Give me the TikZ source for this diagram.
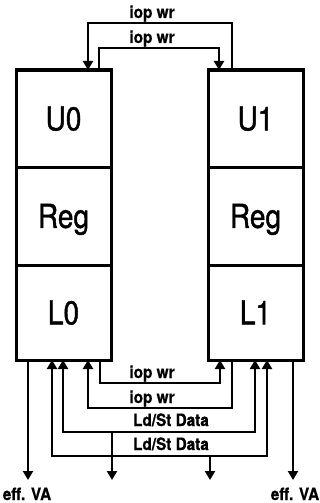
\documentclass[tikz,border=0pt]{standalone}
\usepackage{fontspec}
\newfontfamily\bigf[FakeStretch=0.85,FakeBold=1.2]{TeX Gyre Heros}
\newfontfamily\smf[FakeStretch=0.9,FakeBold=0.8]{TeX Gyre Heros}
\usetikzlibrary{arrows.meta}
\begin{document}
\begin{tikzpicture}[x=1pt,y=-1pt,
  >={Triangle[length=9pt,width=10pt]},
  unit/.style={draw, line width=3pt, minimum width=95pt, inner sep=0pt, outer sep=0pt,
    anchor=north west, font=\bigf\fontsize{33}{33}\selectfont, text height=23.7pt, text depth=0pt},
  wire/.style={line width=2.2pt},
  lbl/.style={font=\smf\bfseries\fontsize{17}{17}\selectfont, anchor=base, inner sep=0pt}]
\useasboundingbox (0,0) rectangle (320,503);
% units
\node[unit, minimum height=97pt] (U0) at (16,70) {U0};
\node[unit, minimum height=98pt] (R0) at (U0.south west) {Reg};
\node[unit, minimum height=95pt] (L0) at (R0.south west) {L0};
\node[unit, minimum height=97pt] (U1) at (208,70) {U1};
\node[unit, minimum height=98pt] (R1) at (U1.south west) {Reg};
\node[unit, minimum height=95pt] (L1) at (R1.south west) {L1};
% helper coordinates
\coordinate (x28) at (28,0);
\coordinate (x52) at (52,0);
\coordinate (x63) at (63,0);
\coordinate (x88) at (88,0);
\coordinate (x99) at (99,0);
\coordinate (x100) at (100,0);
\coordinate (x112) at (112,0);
\coordinate (x210) at (210,0);
\coordinate (x219) at (219,0);
\coordinate (x220) at (220,0);
\coordinate (x232) at (232,0);
\coordinate (x255) at (255,0);
\coordinate (x267) at (267,0);
\coordinate (x293) at (293,0);
\coordinate (y23) at (0,23);
\coordinate (y48) at (0,48);
\coordinate (y383) at (0,383);
\coordinate (y408) at (0,408);
\coordinate (y432) at (0,432);
\coordinate (y456) at (0,456);
\coordinate (y480) at (0,480);
% top connectors
\draw[wire,->] (U1.north -| x232) -- (x232 |- y23) -- (x88 |- y23) -- (U0.north -| x88);
\draw[wire,->] (U0.north -| x99) -- (x99 |- y48) -- (x219 |- y48) -- (U1.north -| x219);
\node[lbl] (t1) at (152,18) {iop wr};
\node[lbl] (t2) at (152,43) {iop wr};
% bottom connectors
\draw[wire,->] (L0.south -| x100) -- (x100 |- y383) -- (x220 |- y383) -- (L1.south -| x220);
\draw[wire,->] (L1.south -| x232) -- (x232 |- y408) -- (x88 |- y408) -- (L0.south -| x88);
\draw[wire,<->] (L0.south -| x63) -- (x63 |- y432) -- (x255 |- y432) -- (L1.south -| x255);
\draw[wire,<->] (L0.south -| x52) -- (x52 |- y456) -- (x267 |- y456) -- (L1.south -| x267);
\draw[wire,->] (x112 |- y432) -- (x112 |- y480);
\draw[wire,->] (x210 |- y456) -- (x210 |- y480);
\draw[wire,->] (L0.south -| x28) -- (x28 |- y480);
\draw[wire,->] (L1.south -| x293) -- (x293 |- y480);
\node[lbl] (b1) at (152,378) {iop wr};
\node[lbl] (b2) at (152,403) {iop wr};
\node[lbl] (b3) at (171,426) {Ld/St Data};
\node[lbl] (b4) at (171,450) {Ld/St Data};
\node[lbl] (e0) at (27,500) {eff. VA};
\node[lbl] (e1) at (295,500) {eff. VA};
\end{tikzpicture}
\end{document}
